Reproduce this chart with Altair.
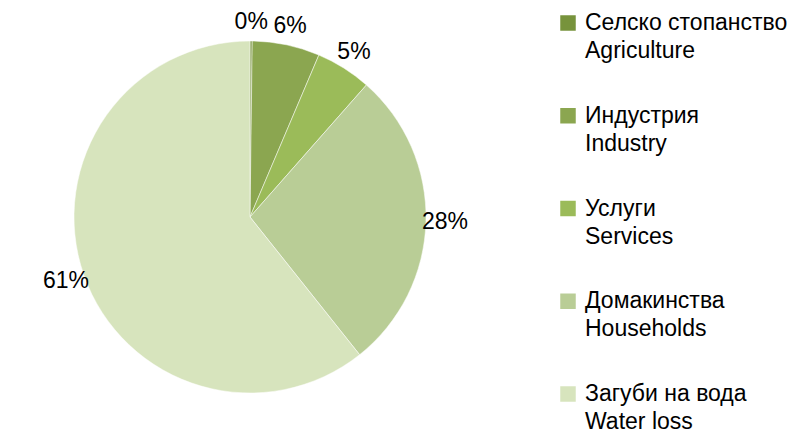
import altair as alt
import pandas as pd

# Data
categories_bg = ["Селско стопанство", "Индустрия", "Услуги", "Домакинства", "Загуби на вода"]
categories_en = ["Agriculture", "Industry", "Services", "Households", "Water loss"]
shares = [0.2, 6.2, 5.1, 27.8, 60.7]
pct_labels = ["0%", "6%", "5%", "28%", "61%"]
colors = ["#77933C", "#8BA650", "#9BBB59", "#B9CD96", "#D7E4BD"]

df = pd.DataFrame({
    "bg": categories_bg,
    "en": categories_en,
    "share": shares,
    "label": pct_labels,
    "order": list(range(len(shares))),
})

FONT = "Liberation Sans"
color_scale = alt.Scale(domain=categories_bg, range=colors)

base = alt.Chart(df).encode(
    theta=alt.Theta("share:Q", stack=True),
    order=alt.Order("order:Q"),
)

pie = base.mark_arc(outerRadius=176, stroke="white", strokeWidth=0.5).encode(
    color=alt.Color("bg:N", scale=color_scale, legend=None)
)

labels = base.mark_text(radius=195, fontSize=23, font=FONT, color="black").encode(
    text="label:N"
)

pie_chart = alt.layer(pie, labels).properties(width=484, height=418)

ypos = alt.Y("bg:N", sort=categories_bg,
             scale=alt.Scale(type="point", padding=0, range=[15, 386]), axis=None)

leg_base = alt.Chart(df).encode(y=ypos)

squares = leg_base.mark_square(size=240, opacity=1).encode(
    x=alt.value(76),
    color=alt.Color("bg:N", scale=color_scale, legend=None),
)
line1 = leg_base.mark_text(align="left", baseline="middle", fontSize=23, font=FONT,
                           color="black").encode(x=alt.value(93), text="bg:N")
line2 = leg_base.mark_text(align="left", baseline="middle", fontSize=23, font=FONT,
                           color="black", dy=28).encode(x=alt.value(93), text="en:N")

legend_chart = alt.layer(squares, line1, line2).properties(width=307, height=429)

chart = alt.hconcat(pie_chart, legend_chart, spacing=0).properties(
    padding=0
).configure_view(stroke=None)

chart.save("out.html", embed_options={"renderer": "svg", "actions": False})
